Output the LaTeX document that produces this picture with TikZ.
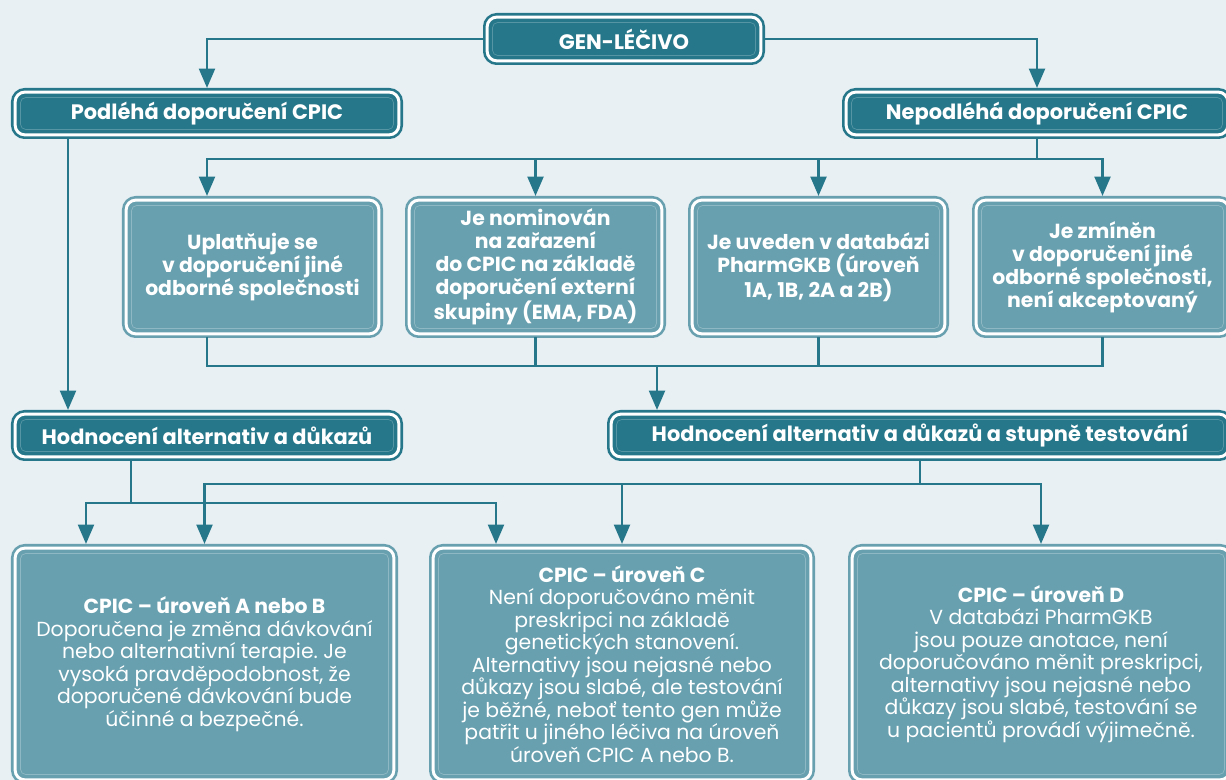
\documentclass[tikz,border=0pt]{standalone}
\usepackage{fontspec}
\setmainfont{Poppins}
\usetikzlibrary{arrows.meta}
\frenchspacing

\definecolor{tmava}{HTML}{26778A}
\definecolor{svetla}{HTML}{68A0AF}
\definecolor{pozadi}{HTML}{E8F0F4}

\tikzset{
  ramecek/.style={line width=1.5pt, double=white, double distance=1.7pt, rounded corners=5.5pt,
    outer sep=2.35pt, inner sep=0pt, text=white, align=center},
  tmavybox/.style={ramecek, draw=tmava, fill=tmava, font=\fontsize{11.9}{13}\selectfont\bfseries},
  svetlybox/.style={ramecek, draw=svetla, fill=svetla, font=\fontsize{11.6}{13}\selectfont\bfseries,
    minimum width=5.055cm, minimum height=2.675cm},
  popisbox/.style={ramecek, draw=svetla, fill=svetla, font=\fontsize{11.6}{12.8}\selectfont,
    minimum height=4.635cm},
  spoj/.style={draw=tmava, line width=1.5pt, line cap=rect},
}

\begin{document}
\begin{tikzpicture}[>={Triangle[length=11pt,width=9pt]}]
   \useasboundingbox (0,0) rectangle (24.52,15.6);
   \clip (0,0) rectangle (24.52,15.6);
   \fill[pozadi] (0,0) rectangle (24.52,15.6);

   \node[tmavybox, minimum width=5.475cm, minimum height=0.875cm] (gen) at (12.48,14.82) {GEN-LÉČIVO};
   \node[tmavybox, minimum width=7.675cm, minimum height=0.855cm] (podleha) at (4.14,13.33) {Podléhá doporučení CPIC};
   \node[tmavybox, minimum width=7.635cm, minimum height=0.855cm] (nepodleha) at (20.74,13.33) {Nepodléhá doporučení CPIC};

   \node[svetlybox] (uplat) at (5.05,10.26) {Uplatňuje se\\ v doporučení jiné\\ odborné společnosti};
   \node[svetlybox] (nomin) at (10.71,10.26) {Je nominován\\ na zařazení\\ do CPIC na základě\\ doporučení externí\\ skupiny (EMA, FDA)};
   \node[svetlybox] (uveden) at (16.37,10.26) {Je uveden v databázi\\ PharmGKB (úroveň\\ 1A, 1B, 2A a 2B)};
   \node[svetlybox] (zminen) at (22.05,10.26) {Je zmíněn\\ v doporučení jiné\\ odborné společnosti,\\ není akceptovaný};

   \node[tmavybox, minimum width=7.675cm, minimum height=0.855cm] (hodA) at (4.14,6.89) {Hodnocení alternativ a důkazů};
   \node[tmavybox, minimum width=12.355cm, minimum height=0.855cm] (hodB) at (18.4,6.89) {Hodnocení alternativ a důkazů a stupně testování};

   \node[popisbox, minimum width=7.575cm] (urovAB) at (4.09,2.32) {\textbf{CPIC – úroveň A nebo B}\\ Doporučena je změna dávkování\\ nebo alternativní terapie. Je\\ vysoká pravděpodobnost, že\\ doporučené dávkování bude\\ účinné a bezpečné.};
   \node[popisbox, minimum width=7.555cm] (urovC) at (12.44,2.32) {\textbf{CPIC – úroveň C}\\ Není doporučováno měnit\\ preskripci na základě\\ genetických stanovení.\\ Alternativy jsou nejasné nebo\\ důkazy jsou slabé, ale testování\\ je běžné, neboť tento gen může\\ patřit u jiného léčiva na úroveň\\ úroveň CPIC A nebo B.};
   \node[popisbox, minimum width=7.555cm] (urovD) at (20.82,2.32) {\textbf{CPIC – úroveň D}\\ V databázi PharmGKB\\ jsou pouze anotace, není\\ doporučováno měnit preskripci,\\ alternativy jsou nejasné nebo\\ důkazy jsou slabé, testování se\\ u pacientů provádí výjimečně.};

   % tenka vnitrni linka
   \foreach \n in {gen,podleha,nepodleha,hodA,hodB}
     \draw[white!22!tmava, line width=0.4pt, rounded corners=3pt] ([shift={(5.4pt,5.4pt)}]\n.south west) rectangle ([shift={(-5.4pt,-5.4pt)}]\n.north east);
   \foreach \n in {uplat,nomin,uveden,zminen,urovAB,urovC,urovD}
     \draw[white!25!svetla, line width=0.4pt, rounded corners=3pt] ([shift={(5.4pt,5.4pt)}]\n.south west) rectangle ([shift={(-5.4pt,-5.4pt)}]\n.north east);

   % spojnice
   \draw[spoj,->] (gen.west) -| (podleha.north);
   \draw[spoj,->] (gen.east) -| (nepodleha.north);
   \draw[spoj,->] ([xshift=-2.78cm]podleha.south) -- ([xshift=-2.78cm]hodA.north);

   \draw[spoj] (nepodleha.south) -- ++(0,-0.4) coordinate (rozv);
   \draw[spoj,<->] (podleha |- uplat.north) -- (podleha |- rozv) -- (zminen.north |- rozv) -- (zminen.north);
   \draw[spoj,->] (nomin.north |- rozv) -- (nomin.north);
   \draw[spoj,->] (uveden.north |- rozv) -- (uveden.north);

   \draw[spoj] (podleha |- uplat.south) -- ++(0,-0.56) coordinate (sber) -- (sber -| zminen.south) -- (zminen.south);
   \draw[spoj] (nomin.south) -- (nomin.south |- sber);
   \draw[spoj] (uveden.south) -- (uveden.south |- sber);
   \coordinate (vstupB) at ([xshift=1cm]hodB.north west);
   \draw[spoj,->] (vstupB |- sber) -- (vstupB);

   \draw[spoj] ([xshift=-1.52cm]hodA.south) -- ++(0,-0.84) coordinate (rozvA);
   \coordinate (vstupA) at ([xshift=1.5cm]urovAB.north west);
   \coordinate (vstupC) at ([xshift=1.34cm]urovC.north west);
   \draw[spoj,<->] (vstupA) -- (vstupA |- rozvA) -- (vstupC |- rozvA) -- (vstupC);

   \draw[spoj] (hodB.south) -- ++(0,-0.46) coordinate (rozvB);
   \draw[spoj,<->] (urovAB.north) -- (urovAB.north |- rozvB) -- (urovD.north |- rozvB) -- (urovD.north);
   \draw[spoj,->] (urovC.north |- rozvB) -- (urovC.north);
\end{tikzpicture}
\end{document}
